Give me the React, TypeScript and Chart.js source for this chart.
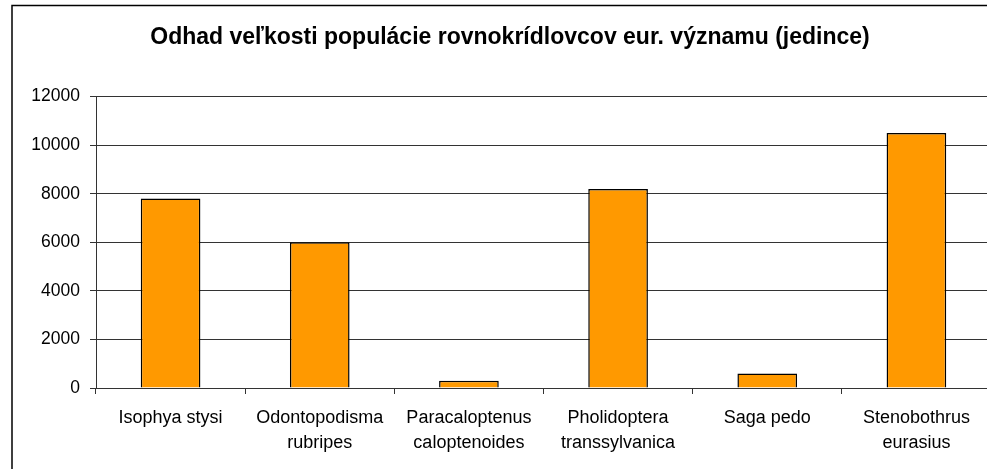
import React, { useEffect, useRef } from "react";
import { Chart, registerables } from "chart.js";

Chart.register(...registerables);

const TITLE = "Odhad veľkosti populácie rovnokrídlovcov eur. významu (jedince)";
const categories: string[][] = [
  ["Isophya stysi"],
  ["Odontopodisma", "rubripes"],
  ["Paracaloptenus", "caloptenoides"],
  ["Pholidoptera", "transsylvanica"],
  ["Saga pedo"],
  ["Stenobothrus", "eurasius"],
];
const values: number[] = [7800, 6000, 300, 8200, 600, 10500];
const yMin = 0;
const yMax = 12000;
const yStep = 2000;

const W = 1010;
const H = 480;

const outerBorder = {
  id: "outerBorder",
  beforeDraw(chart: any) {
    const ctx = chart.ctx;
    ctx.save();
    ctx.fillStyle = "#ffffff";
    ctx.fillRect(0, 0, chart.width, chart.height);
    ctx.strokeStyle = "#000000";
    ctx.lineWidth = 1.5;
    ctx.strokeRect(12, 5.5, 996, 470);
    ctx.restore();
  },
};

export default function App() {
  const ref = useRef<HTMLCanvasElement | null>(null);
  useEffect(() => {
    if (!ref.current) return;
    const chart = new Chart(ref.current, {
      type: "bar",
      data: {
        labels: categories,
        datasets: [
          {
            data: values,
            backgroundColor: "#FF9900",
            borderColor: "#000000",
            borderWidth: 1.5,
            barPercentage: 0.4,
            categoryPercentage: 1,
          },
        ],
      },
      options: {
        responsive: false,
        animation: false,
        layout: { padding: { left: 29, right: 19, top: 0, bottom: 0 } },
        plugins: {
          legend: { display: false },
          tooltip: { enabled: false },
          title: {
            display: true,
            text: TITLE,
            color: "#000000",
            font: { family: "Arial, 'Liberation Sans', sans-serif", size: 23, weight: "bold", lineHeight: 1.2 },
            padding: { top: 24, bottom: 45 },
          },
        },
        scales: {
          x: {
            offset: true,
            grid: {
              display: true,
              drawOnChartArea: false,
              drawTicks: true,
              offset: true,
              tickLength: 6,
              color: "#333333",
            },
            border: { display: true, color: "#333333", width: 1 },
            ticks: {
              color: "#000000",
              font: { family: "Arial, 'Liberation Sans', sans-serif", size: 18, lineHeight: 1.39 },
              padding: 12,
              maxRotation: 0,
              autoSkip: false,
            },
            afterFit(scale: any) {
              scale.height = H - 388;
            },
          },
          y: {
            min: yMin,
            max: yMax,
            grid: { color: "#333333", tickLength: 6, drawTicks: true },
            border: { display: true, color: "#333333", width: 1 },
            ticks: {
              stepSize: yStep,
              color: "#000000",
              font: { family: "Arial, 'Liberation Sans', sans-serif", size: 17.5 },
              padding: 10,
              callback: (v: any) => String(v),
            },
            afterFit(scale: any) {
              scale.width = 96 - 29;
            },
          },
        },
      },
      plugins: [outerBorder],
    });
    return () => chart.destroy();
  }, []);
  return (
    <div style={{ position: "absolute", left: 0, top: 0 }}>
      <canvas ref={ref} width={W} height={H} style={{ display: "block", width: W, height: H }} />
    </div>
  );
}
